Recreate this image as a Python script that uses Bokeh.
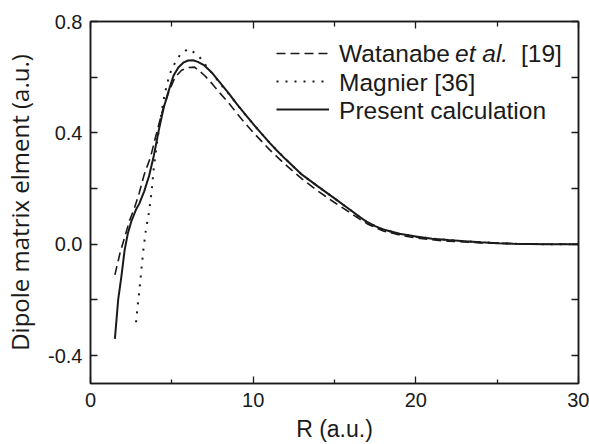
from bokeh.plotting import figure
from bokeh.models import (LinearAxis, Range1d, Legend, LegendItem, Label,
                          CustomJSTickFormatter, FixedTicker)
from bokeh.core.properties import value
from bokeh.embed import file_html
from bokeh.resources import INLINE

# ---- data ----
r_present = [1.5, 1.7, 1.9, 2.1, 2.3, 2.5, 2.8, 3.0, 3.3, 3.6, 3.9, 4.2, 4.5, 4.8,
             5.1, 5.4, 5.7, 6.0, 6.3, 6.6, 7.0, 7.5, 8.0, 8.5, 9.0, 9.5, 10, 10.5,
             11, 11.5, 12, 13, 14, 15, 16, 16.5, 17, 17.5, 18, 19, 20, 21, 22, 23,
             24, 25, 26, 28, 30]
d_present = [-0.34, -0.20, -0.115, -0.02, 0.04, 0.08, 0.125, 0.146, 0.19, 0.245,
             0.32, 0.41, 0.49, 0.55, 0.605, 0.635, 0.652, 0.66, 0.661, 0.655, 0.642,
             0.614, 0.578, 0.542, 0.503, 0.467, 0.432, 0.398, 0.365, 0.334, 0.305,
             0.25, 0.207, 0.165, 0.122, 0.1, 0.08, 0.065, 0.053, 0.038, 0.028, 0.02,
             0.015, 0.011, 0.007, 0.004, 0.002, 0.0, 0.0]

r_watanabe = [1.5, 1.8, 2.1, 2.4, 2.7, 3.0, 3.3, 3.7, 4.0, 4.4, 4.8, 5.2, 5.6, 6.0,
              6.4, 7.0, 7.5, 8.0, 8.5, 9.0, 9.5, 10, 11, 12, 13, 14, 15, 16, 16.5,
              17, 17.5, 18, 19, 20, 21, 22, 24, 26, 28, 30]
d_watanabe = [-0.11, -0.035, 0.025, 0.085, 0.13, 0.185, 0.25, 0.315, 0.385, 0.475,
              0.545, 0.6, 0.625, 0.635, 0.636, 0.607, 0.575, 0.54, 0.507, 0.47, 0.435,
              0.402, 0.34, 0.285, 0.235, 0.19, 0.15, 0.112, 0.092, 0.074, 0.06,
              0.048, 0.033, 0.023, 0.016, 0.011, 0.005, 0.002, 0.0, 0.0]

r_magnier = [2.8, 2.9, 3.0, 3.13, 3.25, 3.4, 3.58, 3.74, 3.9, 4.1, 4.3, 4.5, 4.7,
             4.9, 5.1, 5.5, 6.0, 6.6, 7.1, 7.5, 8.0, 8.5, 9.0, 9.5, 10, 11, 12, 13,
             14, 15, 16, 16.5, 17, 17.5, 18, 19, 20, 21, 22, 24, 26, 28, 30]
d_magnier = [-0.28, -0.22, -0.17, -0.09, -0.02, 0.05, 0.11, 0.18, 0.28, 0.37, 0.45,
             0.52, 0.575, 0.615, 0.642, 0.68, 0.702, 0.68, 0.642, 0.612, 0.575,
             0.54, 0.503, 0.467, 0.432, 0.365, 0.305, 0.25, 0.207, 0.165, 0.122,
             0.1, 0.08, 0.065, 0.053, 0.037, 0.027, 0.02, 0.015, 0.007, 0.002, 0.0,
             0.0]

legend_names = ["Watanabe", "Magnier [36]", "Present calculation"]

x_major = [0, 10, 20, 30]
x_minor = [5, 15, 25]
y_major = [-0.4, 0.0, 0.4, 0.8]
y_minor = [-0.2, 0.2, 0.6]

FONT = "Liberation Sans"
INK = "#1a1a1a"

p = figure(width=589, height=444, output_backend="svg", toolbar_location=None,
           x_range=Range1d(0, 30), y_range=Range1d(-0.5, 0.8),
           min_border_left=89, min_border_right=11, min_border_top=21,
           min_border_bottom=61, x_axis_label="R (a.u.)",
           y_axis_label="Dipole matrix elment (a.u.)")
p.grid.visible = False
p.outline_line_color = INK
p.outline_line_width = 1.5
p.background_fill_color = "white"
p.border_fill_color = "white"

r_w = p.line(r_watanabe, d_watanabe, line_color=INK, line_width=1.6, line_dash="9 5")
r_m = p.line(r_magnier, d_magnier, line_color=INK, line_width=2.0, line_dash="2 7")
r_p = p.line(r_present, d_present, line_color=INK, line_width=2.0)

def style_axis(ax, minor_in):
    ax.axis_line_color = INK
    ax.axis_line_width = 1.5
    ax.major_tick_line_color = INK
    ax.minor_tick_line_color = INK
    ax.major_tick_line_width = 1.3
    ax.minor_tick_line_width = 1.3
    ax.major_tick_in = 7
    ax.major_tick_out = 0
    ax.minor_tick_in = minor_in
    ax.minor_tick_out = 0
    ax.major_label_text_font = FONT
    ax.major_label_text_font_size = "20px"
    ax.major_label_text_color = INK
    ax.axis_label_text_font = FONT
    ax.axis_label_text_font_style = "normal"
    ax.axis_label_text_color = INK

xa = p.xaxis[0]
ya = p.yaxis[0]
xa.ticker = FixedTicker(ticks=x_major, minor_ticks=x_minor)
ya.ticker = FixedTicker(ticks=y_major, minor_ticks=y_minor)
style_axis(xa, 4)
style_axis(ya, 7)
xa.axis_label_text_font_size = "23px"
ya.axis_label_text_font = "Open Sans"
ya.axis_label_text_font_size = "24px"
xa.major_label_standoff = 9
xa.axis_label_standoff = 6
ya.major_label_standoff = 8
ya.axis_label_standoff = 9
ya.formatter = CustomJSTickFormatter(code="return tick.toFixed(1);")

blank = CustomJSTickFormatter(code="return '';")
top = LinearAxis(ticker=FixedTicker(ticks=x_major, minor_ticks=x_minor), formatter=blank)
right = LinearAxis(ticker=FixedTicker(ticks=y_major, minor_ticks=y_minor), formatter=blank)
style_axis(top, 5)
style_axis(right, 7)
for ax in (top, right):
    ax.major_label_standoff = 0
    ax.major_label_text_font_size = "1px"
p.add_layout(top, "above")
p.add_layout(right, "right")

# legend: glyph samples from Bokeh's legend, texts as labels (for the italic part)
legend = Legend(items=[LegendItem(label=value(""), renderers=[r_w]),
                       LegendItem(label=value(""), renderers=[r_m]),
                       LegendItem(label=value(""), renderers=[r_p])],
                location=(186, 260), glyph_width=53, glyph_height=28,
                label_height=28, label_width=0, spacing=0, padding=0, margin=0,
                label_standoff=0, border_line_alpha=0, background_fill_alpha=0)
p.add_layout(legend)

lx = 15.28
rows = [0.685, 0.581, 0.48]
common = dict(text_font=FONT, text_font_size="24.5px", text_color=INK,
              text_baseline="middle")
p.add_layout(Label(x=lx, y=rows[0], text=legend_names[0], **common))
p.add_layout(Label(x=lx, y=rows[0], x_offset=116, text="et al.",
                   text_font_style="italic", **common))
p.add_layout(Label(x=lx, y=rows[0], x_offset=182, text="[19]", **common))
p.add_layout(Label(x=lx, y=rows[1], text=legend_names[1], **common))
p.add_layout(Label(x=lx, y=rows[2], text=legend_names[2], **common))

open("out.html", "w").write(file_html(p, INLINE))
